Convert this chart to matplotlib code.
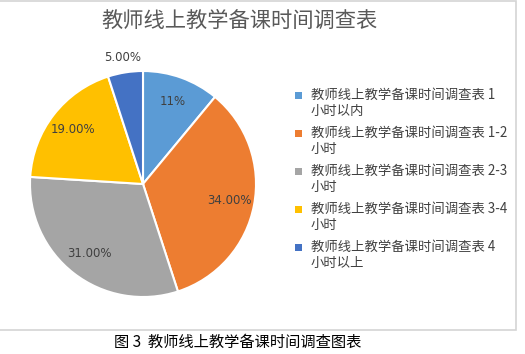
import numpy as np
import matplotlib
matplotlib.use("Agg")
import matplotlib.pyplot as plt
from matplotlib.patches import Rectangle

plt.rcParams['font.family'] = ['Noto Sans CJK SC', 'DejaVu Sans']

# data
title = "教师线上教学备课时间调查表"
caption = "图 3  教师线上教学备课时间调查图表"
categories = ["1小时以内", "1-2小时", "2-3小时", "3-4小时", "4小时以上"]
legend_lines = [("教师线上教学备课时间调查表 1", "小时以内"),
                ("教师线上教学备课时间调查表 1-2", "小时"),
                ("教师线上教学备课时间调查表 2-3", "小时"),
                ("教师线上教学备课时间调查表 3-4", "小时"),
                ("教师线上教学备课时间调查表 4", "小时以上")]
shares = [11, 34, 31, 19, 5]
pct_labels = ["11%", "34.00%", "31.00%", "19.00%", "5.00%"]
colors = ["#5B9BD5", "#ED7D31", "#A5A5A5", "#FFC000", "#4472C4"]

W, H = 525, 354
fig = plt.figure(figsize=(W / 100, H / 100), dpi=100)

# chart frame
fig.patches.append(Rectangle((-1 / W, 1 - 330 / H), 517 / W, 329 / H,
                             transform=fig.transFigure, fill=False,
                             edgecolor="#d4d4d4", lw=1.2))

# pie, centre at (143,184) px, radius 113 px
cx, cy, r = 143, 184, 113
ax = fig.add_axes([(cx - r) / W, (H - cy - r) / H, 2 * r / W, 2 * r / H])
wedges, _ = ax.pie(shares, colors=colors, startangle=90, counterclock=False,
                   wedgeprops=dict(edgecolor="white", linewidth=1.5))
ax.set_aspect("equal")
ax.set_xlim(-1, 1)
ax.set_ylim(-1, 1)

for i, w in enumerate(wedges):
    mid = np.deg2rad((w.theta1 + w.theta2) / 2)
    d = 1.13 if i == len(wedges) - 1 else 0.78
    ax.text(d * np.cos(mid), d * np.sin(mid), pct_labels[i], ha="center",
            va="center", fontsize=8.5, color="#404040", family="DejaVu Sans",
            clip_on=False)

# title
fig.text(239 / W, 1 - 21 / H, title, ha="center", va="center",
         fontsize=15.3, color="#595959")

# legend drawn by hand so the marker sits on the first line
for i, (l1, l2) in enumerate(legend_lines):
    y = 95 + 38 * i
    fig.patches.append(Rectangle((295 / W, 1 - (y + 3.5) / H), 7 / W, 7 / H,
                                 transform=fig.transFigure, facecolor=colors[i],
                                 edgecolor="none"))
    fig.text(311 / W, 1 - y / H, l1, ha="left", va="center",
             fontsize=9.6, color="#404040")
    fig.text(311 / W, 1 - (y + 16) / H, l2, ha="left", va="center",
             fontsize=9.6, color="#404040")

# caption below the frame
fig.text(238 / W, 1 - 342 / H, caption, ha="center", va="center",
         fontsize=11, color="black")

fig.savefig("out.png", dpi=100)
